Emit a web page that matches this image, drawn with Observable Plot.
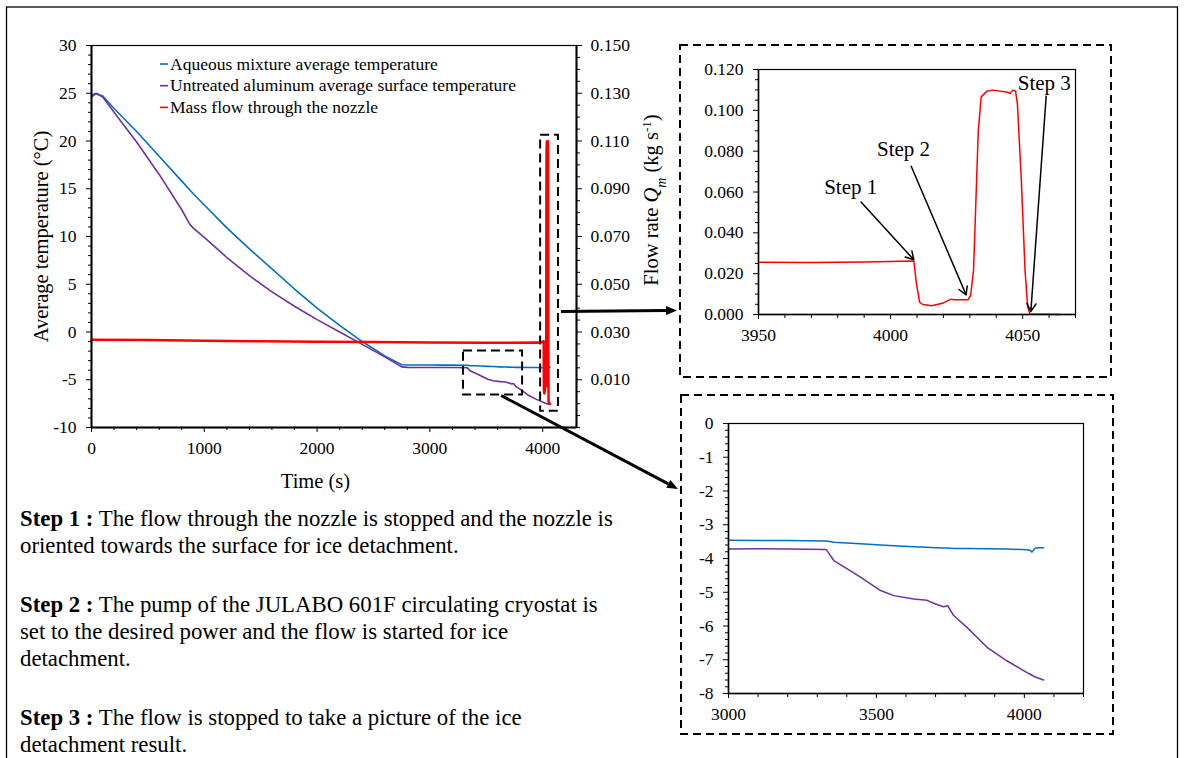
<!DOCTYPE html>
<html><head><meta charset="utf-8">
<script src="https://cdn.jsdelivr.net/npm/d3@7"></script>
<script src="https://cdn.jsdelivr.net/npm/@observablehq/plot@0.6"></script>
<style>
html,body{margin:0;padding:0;background:#fff;}
#fig{position:relative;width:1184px;height:758px;overflow:hidden;font-family:"Liberation Serif","Times New Roman",serif;color:#000;background:#fff;}
.abs{position:absolute;}
#steps{position:absolute;left:20px;top:505px;font-size:22.8px;line-height:27px;white-space:nowrap;}
#steps p{margin:0 0 32px 0;}
svg text{font-family:"Liberation Serif","Times New Roman",serif;}
</style></head>
<body><div id="fig">
<div id="main" class="abs" style="left:0;top:0"></div>
<div id="inset1" class="abs" style="left:680px;top:45px"></div>
<div id="inset2" class="abs" style="left:681px;top:395px"></div>
<div id="steps">
<p><b>Step 1 :</b> The flow through the nozzle is stopped and the nozzle is<br>oriented towards the surface for ice detachment.</p>
<p><b>Step 2 :</b> The pump of the JULABO 601F circulating cryostat is<br>set to the desired power and the flow is started for ice<br>detachment.</p>
<p><b>Step 3 :</b> The flow is stopped to take a picture of the ice<br>detachment result.</p>
</div>
</div>
<script>
// ---------------- data ----------------
const tempTime = [0, 40, 100, 200, 400, 600, 800, 870, 900, 1000, 1200, 1400, 1600, 1800, 2000, 2200, 2400, 2600, 2750, 2800, 3000, 3100, 3200, 3330, 3356, 3400, 3446, 3514, 3559, 3626, 3671, 3700, 3727, 3741, 3761, 3806, 3874, 3941, 4009, 4020, 4026, 4032, 4037, 4065];
const aqueousTemp = [24.6, 24.95, 24.7, 23.4, 21.0, 18.4, 15.8, 14.9, 14.5, 13.3, 10.9, 8.7, 6.6, 4.5, 2.5, 0.7, -1.0, -2.5, -3.43, -3.45, -3.46, -3.47, -3.47, -3.48, -3.52, -3.54, -3.56, -3.60, -3.62, -3.65, -3.67, -3.68, -3.69, -3.69, -3.70, -3.70, -3.71, -3.72, -3.74, -3.76, -3.81, -3.74, -3.69, -3.68];
const aluminumTemp = [24.8, 25.0, 24.6, 23.0, 19.9, 16.5, 12.8, 11.3, 10.9, 9.9, 7.8, 5.9, 4.2, 2.7, 1.3, 0.0, -1.3, -2.6, -3.65, -3.70, -3.72, -3.71, -3.72, -3.73, -4.06, -4.30, -4.55, -4.95, -5.10, -5.20, -5.24, -5.35, -5.43, -5.40, -5.69, -6.04, -6.63, -7.03, -7.38, -7.43, -7.46, -7.49, -7.51, -7.60];
const flowTime = [0, 500, 1000, 1500, 2000, 2500, 3000, 3500, 3950, 3970, 3990, 4008.8, 4009.8, 4011, 4012.2, 4015.6, 4019.9, 4022.8, 4024.2, 4029.3, 4030.3, 4031.4, 4033.2, 4034.3, 4036.5, 4038.7, 4044.4, 4045.2, 4046.3, 4047.3, 4048, 4049.5, 4050.9, 4051.9, 4052.8, 4064];
const flowRate = [0.0268, 0.0266, 0.0263, 0.0261, 0.0259, 0.0258, 0.0256, 0.0255, 0.0256, 0.0255, 0.0257, 0.0262, 0.015, 0.006, 0.0049, 0.0043, 0.0056, 0.0075, 0.0072, 0.0072, 0.0093, 0.0216, 0.090, 0.1066, 0.1094, 0.1099, 0.1089, 0.1082, 0.1099, 0.1095, 0.1033, 0.0657, 0.0216, 0.0036, 0.0003, 0];
const seriesNames = ["Aqueous mixture average temperature", "Untreated aluminum average surface temperature", "Mass flow through the nozzle"];
const mainXTicks = [0, 1000, 2000, 3000, 4000];
const mainYTicks = [-10, -5, 0, 5, 10, 15, 20, 25, 30];
const flowAxisTicks = [0.010, 0.030, 0.050, 0.070, 0.090, 0.110, 0.130, 0.150];
const inset1XTicks = [3950, 4000, 4050];
const inset1YTicks = [0, 0.02, 0.04, 0.06, 0.08, 0.10, 0.12];
const inset2XTicks = [3000, 3500, 4000];
const inset2YTicks = [0, -1, -2, -3, -4, -5, -6, -7, -8];
const stepNames = ["Step 1", "Step 2", "Step 3"];

// --------------- styling / annotations ---------------
const FONT = '"Liberation Serif","Times New Roman",serif';
const COLORS = ["#0070C0", "#7030A0", "#FF0000"];
const TICKFS = 17.5;
const flowToT = f => -10 + (f + 0.01) / 0.16 * 40;
const tToFlow = t => (t + 10) / 40 * 0.16 - 0.01;
const rng = (a, b, s) => d3.range(Math.round((b - a) / s) + 1).map(i => +(a + i * s).toFixed(6));

const tempRows = tempTime.map((t, i) => ({t, aq: aqueousTemp[i], al: aluminumTemp[i]}));
const flowRows = flowTime.map((t, i) => ({t, q: flowRate[i]}));
const zoomBoxes = [{x1: 3298, x2: 3822, y1: -6.6, y2: -2.0}, {x1: 3982, x2: 4140, y1: -8.3, y2: 20.6}];
const stepAnn = [
  {label: stepNames[0], tx: 3984.9, ty: 0.0624, x1: 3988.8, y1: 0.0551, x2: 4008.8, y2: 0.0268},
  {label: stepNames[1], tx: 4004.9, ty: 0.0808, x1: 4007.8, y1: 0.0726, x2: 4028.6, y2: 0.0096},
  {label: stepNames[2], tx: 4058.2, ty: 0.1131, x1: 4058.9, y1: 0.1069, x2: 4053.1, y2: 0.0015}
];
const notMajor = (arr, major) => arr.filter(v => !major.some(m => Math.abs(m - v) < 1e-9));
const baseStyle = {fontFamily: FONT, fontSize: "17px", background: "transparent", color: "#000", overflow: "visible"};
const NOTXT = {tickFormat: () => "", label: null};

// tick-label helpers (text marks so the serif font and size are explicit)
const yLabels = (ticks, fmt, side) => Plot.text(ticks, {y: d => d, text: fmt, frameAnchor: side,
  dx: side === "left" ? -15 : 14, textAnchor: side === "left" ? "end" : "start", fontSize: TICKFS, fontFamily: FONT});
const xLabels = (ticks, fmt) => Plot.text(ticks, {x: d => d, text: fmt, frameAnchor: "bottom", dy: 20.5,
  textAnchor: "middle", lineAnchor: "middle", fontSize: TICKFS, fontFamily: FONT});

// --------------- main chart ---------------
const main = Plot.plot({
  width: 660, height: 500,
  marginLeft: 91, marginRight: 84, marginTop: 45, marginBottom: 73,
  style: baseStyle,
  x: {domain: [0, 4300]},
  y: {domain: [-10, 30]},
  marks: [
    Plot.frame({stroke: "#000", strokeWidth: 1.2}),
    Plot.line(tempRows, {x: "t", y: "aq", stroke: COLORS[0], strokeWidth: 1.6}),
    Plot.line(tempRows, {x: "t", y: "al", stroke: COLORS[1], strokeWidth: 1.6}),
    Plot.line(flowRows, {x: "t", y: d => flowToT(d.q), stroke: COLORS[2], strokeWidth: 2.5}),
    Plot.rect(zoomBoxes, {x1: "x1", x2: "x2", y1: "y1", y2: "y2", fill: "none", stroke: "#000", strokeWidth: 2, strokeDasharray: "9,5"}),
    Plot.ruleX([0, 4300], {stroke: "#000", strokeWidth: 2}),
    Plot.ruleY([-10], {stroke: "#000", strokeWidth: 2}),
    Plot.axisY(mainYTicks, {...NOTXT, anchor: "left", tickSize: 5}),
    Plot.axisY(notMajor(rng(-10, 30, 1), mainYTicks), {...NOTXT, anchor: "left", tickSize: 3}),
    Plot.axisY(flowAxisTicks.map(flowToT), {...NOTXT, anchor: "right", tickSize: 5}),
    Plot.axisY(notMajor(rng(-0.01, 0.15, 0.005).map(flowToT), flowAxisTicks.map(flowToT)), {...NOTXT, anchor: "right", tickSize: 3}),
    Plot.axisX(mainXTicks, {...NOTXT, anchor: "bottom", tickSize: 5}),
    Plot.axisX(notMajor(rng(0, 4200, 200), mainXTicks), {...NOTXT, anchor: "bottom", tickSize: 3}),
    yLabels(mainYTicks, d => String(d), "left"),
    yLabels(flowAxisTicks.map(flowToT), t => d3.format(".3f")(tToFlow(t)), "right"),
    xLabels(mainXTicks, d => String(d)),
    Plot.text(["Average temperature (°C)"], {frameAnchor: "left", dx: -50, rotate: -90, fontSize: 20.5, fontFamily: FONT, textAnchor: "middle"}),
    Plot.text(["Time (s)"], {frameAnchor: "bottom", dx: -18.5, dy: 60, fontSize: 20.5, fontFamily: FONT, textAnchor: "middle"})
  ]
});
document.getElementById("main").appendChild(main);

// --------------- inset 1 (flow) ---------------
const inset1 = Plot.plot({
  width: 431, height: 332,
  marginLeft: 78, marginRight: 36, marginTop: 24, marginBottom: 63,
  style: baseStyle,
  x: {domain: [3950, 4070]},
  y: {domain: [0, 0.12]},
  marks: [
    Plot.frame({stroke: "#000", strokeWidth: 1.2}),
    Plot.line(flowRows.filter(d => d.t >= 3950), {x: "t", y: "q", stroke: COLORS[2], strokeWidth: 1.5}),
    Plot.ruleX([3950], {stroke: "#000", strokeWidth: 1.5}),
    Plot.ruleY([0], {stroke: "#000", strokeWidth: 1.5}),
    Plot.axisY(inset1YTicks, {...NOTXT, anchor: "left", tickSize: 5}),
    Plot.axisY(notMajor(rng(0, 0.12, 0.005), inset1YTicks), {...NOTXT, anchor: "left", tickSize: 3}),
    Plot.axisX(inset1XTicks, {...NOTXT, anchor: "bottom", tickSize: 5}),
    Plot.axisX(notMajor(rng(3950, 4070, 10), inset1XTicks), {...NOTXT, anchor: "bottom", tickSize: 4}),
    yLabels(inset1YTicks, d3.format(".3f"), "left"),
    xLabels(inset1XTicks, d => String(d)),
    Plot.arrow(stepAnn, {x1: "x1", y1: "y1", x2: "x2", y2: "y2", stroke: "#000", strokeWidth: 1.5, headLength: 9}),
    Plot.text(stepAnn, {x: "tx", y: "ty", text: "label", fontSize: 21, fontFamily: FONT, textAnchor: "middle"})
  ]
});
document.getElementById("inset1").appendChild(inset1);

// --------------- inset 2 (temperature zoom) ---------------
const inset2 = Plot.plot({
  width: 432, height: 339,
  marginLeft: 47, marginRight: 30, marginTop: 28, marginBottom: 41,
  style: baseStyle,
  x: {domain: [3000, 4200]},
  y: {domain: [-8, 0]},
  marks: [
    Plot.frame({stroke: "#000", strokeWidth: 1.2}),
    Plot.line(tempRows.filter(d => d.t >= 3000), {x: "t", y: "aq", stroke: COLORS[0], strokeWidth: 1.5}),
    Plot.line(tempRows.filter(d => d.t >= 3000), {x: "t", y: "al", stroke: COLORS[1], strokeWidth: 1.5}),
    Plot.ruleX([3000], {stroke: "#000", strokeWidth: 1.5}),
    Plot.ruleY([-8], {stroke: "#000", strokeWidth: 1.5}),
    Plot.axisY(inset2YTicks, {...NOTXT, anchor: "left", tickSize: 5}),
    Plot.axisY(notMajor(rng(-8, 0, 0.2), inset2YTicks), {...NOTXT, anchor: "left", tickSize: 3}),
    Plot.axisX(inset2XTicks, {...NOTXT, anchor: "bottom", tickSize: 5}),
    Plot.axisX(notMajor(rng(3000, 4200, 100), inset2XTicks), {...NOTXT, anchor: "bottom", tickSize: 4}),
    yLabels(inset2YTicks, d => String(d), "left"),
    xLabels(inset2XTicks, d => String(d))
  ]
});
document.getElementById("inset2").appendChild(inset2);

// --------------- overlay: frame, dashed boxes, arrows, legend, right-axis title ---------------
const svg = d3.select("#fig").append("svg")
  .attr("width", 1184).attr("height", 758)
  .style("position", "absolute").style("left", 0).style("top", 0)
  .style("pointer-events", "none").style("font-family", FONT);

svg.append("rect").attr("x", 6.5).attr("y", 7).attr("width", 1171).attr("height", 800)
  .attr("fill", "none").attr("stroke", "#000").attr("stroke-width", 1.3);

function boxOf(id) {
  const el = document.getElementById(id);
  const svgEl = el.querySelector("svg");
  return {x: el.offsetLeft, y: el.offsetTop, w: +svgEl.getAttribute("width"), h: +svgEl.getAttribute("height")};
}
const b1 = boxOf("inset1"), b2 = boxOf("inset2");
[b1, b2].forEach(b => svg.append("rect").attr("x", b.x).attr("y", b.y).attr("width", b.w).attr("height", b.h)
  .attr("fill", "none").attr("stroke", "#000").attr("stroke-width", 2).attr("stroke-dasharray", "8,5"));

function arrow(x1, y1, x2, y2, w) {
  const a = Math.atan2(y2 - y1, x2 - x1), L = 11, H = 4.5;
  const bx = x2 - L * Math.cos(a), by = y2 - L * Math.sin(a);
  svg.append("line").attr("x1", x1).attr("y1", y1).attr("x2", bx).attr("y2", by)
    .attr("stroke", "#000").attr("stroke-width", w);
  svg.append("path").attr("d", `M${x2},${y2}L${bx - H * Math.sin(a)},${by + H * Math.cos(a)}L${bx + H * Math.sin(a)},${by - H * Math.cos(a)}Z`).attr("fill", "#000");
}
const sx = main.scale("x"), sy = main.scale("y");
arrow(sx.apply(zoomBoxes[1].x2) + 3, sy.apply(2.1), b1.x - 3, sy.apply(2.1) - 1, 3);
arrow(sx.apply(3636), sy.apply(-6.7), b2.x - 3, 489, 3);

// legend
const lg = svg.append("g");
seriesNames.forEach((name, i) => {
  const y = 64 + i * 21.7;
  lg.append("line").attr("x1", 160).attr("x2", 168).attr("y1", y).attr("y2", y).attr("stroke", COLORS[i]).attr("stroke-width", 1.6);
  lg.append("text").attr("x", 170).attr("y", y).attr("dy", "0.33em").attr("font-size", 17.5).text(name);
});

// right axis title with italic Q, subscript m and superscript -1
const rt = svg.append("text").attr("transform", "translate(651,200) rotate(-90)")
  .attr("text-anchor", "middle").attr("dy", "0.33em").attr("font-size", 20.5);
rt.append("tspan").text("Flow rate ");
rt.append("tspan").attr("font-style", "italic").text("Q");
rt.append("tspan").attr("font-style", "italic").attr("font-size", 14).attr("baseline-shift", "sub").text("m");
rt.append("tspan").text(" (kg s");
rt.append("tspan").attr("font-size", 13).attr("baseline-shift", "super").text("-1");
rt.append("tspan").text(")");
</script>
</body></html>
